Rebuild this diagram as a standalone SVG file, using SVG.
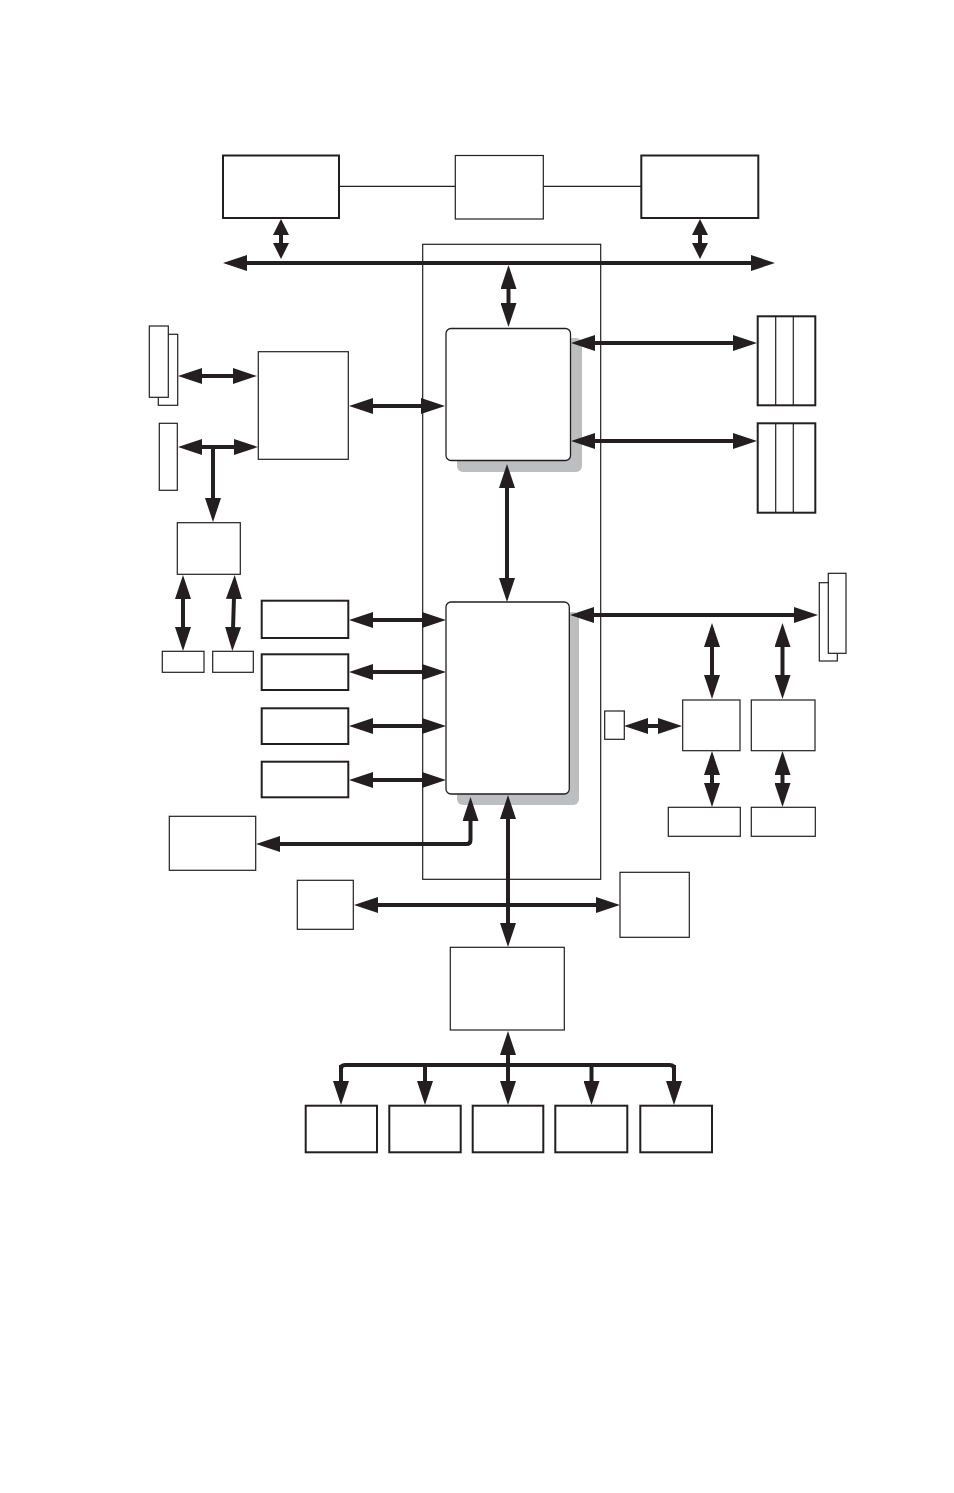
<svg xmlns="http://www.w3.org/2000/svg" width="954" height="1493" viewBox="0 0 954 1493">
<style>
.b{fill:#fff;stroke:#231f20;stroke-width:2}
.t{fill:#fff;stroke:#231f20;stroke-width:1.2}
.chip{fill:#fff;stroke:#231f20;stroke-width:1.3}
.sh{fill:#bcbec0}
.thin{fill:none;stroke:#231f20;stroke-width:1.2}
.c{fill:none;stroke:#231f20;stroke-width:4;marker-start:url(#ah);marker-end:url(#ah)}
.e{fill:none;stroke:#231f20;stroke-width:4;marker-end:url(#ah)}
.n{fill:none;stroke:#231f20;stroke-width:4}
.s{fill:none;stroke:#231f20;stroke-width:4;marker-start:url(#as);marker-end:url(#as)}
</style>
<defs>
<marker id="ah" viewBox="0 -8 24 16" refX="2" refY="0" markerWidth="24" markerHeight="16" markerUnits="userSpaceOnUse" orient="auto-start-reverse"><path d="M0,-8 L24,0 L0,8 z" fill="#231f20"/></marker>
<marker id="as" viewBox="0 -8 16 16" refX="2" refY="0" markerWidth="16" markerHeight="16" markerUnits="userSpaceOnUse" orient="auto-start-reverse"><path d="M0,-8 L16,0 L0,8 z" fill="#231f20"/></marker>
</defs>
<rect width="954" height="1493" fill="#fff"/>
<g id="frame"><rect x="422.7" y="244.3" width="178" height="635" class="thin"/></g>
<g id="links">
<line x1="339" y1="186.3" x2="455" y2="186.3" class="thin" stroke-width="1"/>
<line x1="543" y1="186.3" x2="641" y2="186.3" class="thin" stroke-width="1"/>
</g>
<g id="nodes">
<g id="boxA"><rect x="223" y="155.5" width="116" height="62.5" class="b"/></g>
<g id="boxB"><rect x="455.3" y="155.5" width="88" height="63.5" class="t"/></g>
<g id="boxC"><rect x="641.3" y="155.5" width="117" height="62.5" class="b"/></g>
<g id="chipN"><rect x="457" y="338" width="125" height="134" rx="6" class="sh"/><rect x="446" y="328.5" width="124.5" height="132" rx="5" class="chip"/></g>
<g id="chipS"><rect x="457" y="612" width="122" height="193" rx="6" class="sh"/><rect x="446" y="602" width="123.3" height="192" rx="5" class="chip"/></g>
<g id="stack1"><rect x="757.7" y="316.3" width="57.6" height="89" class="b"/><line x1="775.7" y1="316.3" x2="775.7" y2="405.3" class="thin"/><line x1="793.3" y1="316.3" x2="793.3" y2="405.3" class="thin"/></g>
<g id="stack2"><rect x="757.7" y="423.3" width="57.6" height="89.4" class="b"/><line x1="775.7" y1="423.3" x2="775.7" y2="512.7" class="thin"/><line x1="793.3" y1="423.3" x2="793.3" y2="512.7" class="thin"/></g>
<g id="boxD"><rect x="258.3" y="351.7" width="90" height="107.6" class="t" stroke-width="1.6"/></g>
<g id="cardsL"><rect x="158.3" y="334.3" width="19.4" height="71" class="t"/><rect x="149.3" y="326" width="19" height="71.3" class="t"/></g>
<g id="card2"><rect x="159.3" y="423.3" width="18" height="67" class="t"/></g>
<g id="boxE"><rect x="177.3" y="522.7" width="63" height="51.6" class="t" stroke-width="1.6"/></g>
<g id="boxF1"><rect x="162.3" y="651.3" width="41.7" height="21" class="t"/></g>
<g id="boxF2"><rect x="212.7" y="651.3" width="40.6" height="21" class="t"/></g>
<g id="boxG1"><rect x="261.7" y="600.7" width="86.6" height="37.3" class="b"/></g>
<g id="boxG2"><rect x="261.7" y="654.3" width="86.6" height="35.7" class="b"/></g>
<g id="boxG3"><rect x="261.7" y="708.3" width="86.6" height="35.7" class="b"/></g>
<g id="boxG4"><rect x="261.7" y="761.7" width="86.6" height="35.6" class="b"/></g>
<g id="boxH"><rect x="169.3" y="816.3" width="86.4" height="54" class="t"/></g>
<g id="boxJ"><rect x="297.3" y="880.3" width="56" height="49" class="t"/></g>
<g id="boxK"><rect x="620" y="872.3" width="69.3" height="65" class="t"/></g>
<g id="boxI"><rect x="450.3" y="947.3" width="114" height="82.7" class="t" stroke-width="1.6"/></g>
<g id="boxL1"><rect x="305.7" y="1105.7" width="71.3" height="46.6" class="b"/></g>
<g id="boxL2"><rect x="389.3" y="1105.7" width="71.4" height="46.6" class="b"/></g>
<g id="boxL3"><rect x="472.7" y="1105.7" width="70.6" height="46.6" class="b"/></g>
<g id="boxL4"><rect x="555.3" y="1105.7" width="72" height="46.6" class="b"/></g>
<g id="boxL5"><rect x="640.3" y="1105.7" width="71.7" height="46.6" class="b"/></g>
<g id="cardsR"><rect x="819.3" y="582.7" width="18" height="78.3" class="t"/><rect x="828.3" y="573.3" width="17.7" height="80" class="t"/></g>
<g id="boxS"><rect x="604.7" y="711" width="19.6" height="28.3" class="t"/></g>
<g id="boxM1"><rect x="682.7" y="700" width="57.3" height="50.7" class="t"/></g>
<g id="boxM2"><rect x="751.3" y="700" width="63.7" height="50.7" class="t"/></g>
<g id="boxN1"><rect x="668.3" y="807.3" width="72" height="29" class="t"/></g>
<g id="boxN2"><rect x="751.3" y="807.3" width="64" height="29" class="t"/></g>
</g>
<g id="connectors">
<line x1="245" y1="263" x2="753" y2="263" class="c" stroke-width="4.5"/>
<line x1="281" y1="233" x2="281" y2="245" class="s"/>
<line x1="700" y1="233" x2="700" y2="245" class="s"/>
<line x1="508.5" y1="287" x2="508.5" y2="305" class="c"/>
<line x1="593" y1="343" x2="735" y2="343" class="c"/>
<line x1="593" y1="441" x2="735" y2="441" class="c"/>
<line x1="507" y1="486" x2="507" y2="580" class="c"/>
<line x1="371" y1="406" x2="423" y2="406" class="c"/>
<line x1="200" y1="376" x2="235" y2="376" class="c"/>
<line x1="200" y1="447" x2="236" y2="447" class="c"/>
<line x1="213" y1="447" x2="213" y2="500" class="e"/>
<line x1="183" y1="597" x2="183" y2="629" class="c"/>
<line x1="234" y1="597" x2="233" y2="629" class="c"/>
<line x1="371" y1="620" x2="424" y2="620" class="c"/>
<line x1="371" y1="672" x2="424" y2="672" class="c"/>
<line x1="371" y1="726" x2="424" y2="726" class="c"/>
<line x1="371" y1="780" x2="424" y2="780" class="c"/>
<path d="M470.5,819 L470.5,840 Q470.5,844 466.5,844 L278,844" class="c"/>
<line x1="508" y1="817" x2="508" y2="925" class="c"/>
<line x1="376" y1="905" x2="598" y2="905" class="c"/>
<line x1="592" y1="615" x2="796" y2="615" class="c"/>
<line x1="712" y1="645" x2="712" y2="677" class="c"/>
<line x1="782.5" y1="645" x2="782.5" y2="677" class="c"/>
<line x1="646" y1="726" x2="660" y2="726" class="c"/>
<line x1="712" y1="773" x2="712" y2="785" class="c"/>
<line x1="782.5" y1="773" x2="782.5" y2="785" class="c"/>
<line x1="508" y1="1053" x2="508" y2="1083" class="c"/>
<path d="M341,1075 L341,1069 Q341,1065 345,1065 L670,1065 Q674,1065 674,1069 L674,1075" class="n"/>
<line x1="341" y1="1065" x2="341" y2="1083" class="e"/>
<line x1="425" y1="1065" x2="425" y2="1083" class="e"/>
<line x1="591.5" y1="1065" x2="591.5" y2="1083" class="e"/>
<line x1="674" y1="1065" x2="674" y2="1083" class="e"/>
</g>
</svg>
